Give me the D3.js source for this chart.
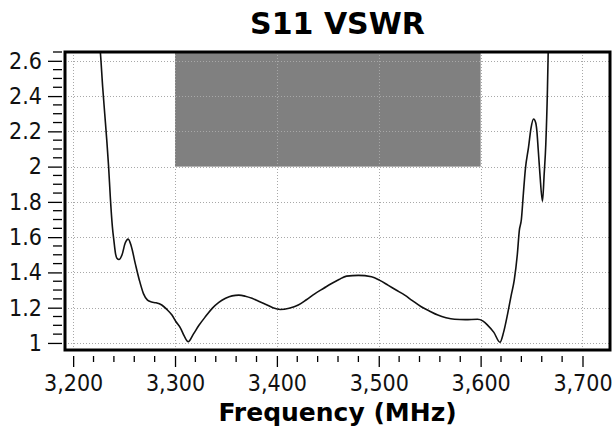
<!DOCTYPE html>
<html>
<head>
<meta charset="utf-8">
<script src="https://cdn.jsdelivr.net/npm/d3@7"></script>
<style>
	body { margin: 0; background: #fff; }
	svg { display: block; }
</style>
</head>
<body>
<div id="chart"></div>
<script>
// S11 VSWR sweep
const freq = [
	3224, 3226.7, 3229, 3231, 3233, 3234.8, 3236.5, 3238.5, 3240, 3241.5,
	3243, 3245, 3248, 3251, 3254, 3257, 3261, 3265, 3269, 3273,
	3277, 3281, 3287, 3292, 3297, 3301, 3305.5, 3309, 3313, 3318,
	3323.5, 3330, 3336.5, 3343, 3349.6, 3356, 3362.6, 3369, 3375.6, 3382,
	3388.7, 3396, 3403.3, 3412, 3421, 3429, 3437.5, 3446, 3453.7, 3461,
	3468.4, 3480, 3492.9, 3501, 3509, 3517, 3525.5, 3533, 3541.7, 3550,
	3558, 3566, 3574.4, 3585, 3597, 3602, 3607, 3613, 3619, 3622.5,
	3626.6, 3630, 3633, 3636, 3638, 3640, 3642, 3644, 3647, 3649.5,
	3652, 3654, 3655.2, 3656.5, 3658.2, 3660.7, 3662.4, 3664, 3665.6, 3666.5,
	3667.5,
];
const vswr = [
	2.8, 2.65, 2.45, 2.3, 2.15, 2.0, 1.825, 1.66, 1.58, 1.51,
	1.48, 1.473, 1.5, 1.565, 1.589, 1.55, 1.45, 1.356, 1.28, 1.243,
	1.232, 1.228, 1.215, 1.19, 1.158, 1.12, 1.083, 1.04, 1.007, 1.05,
	1.1, 1.15, 1.196, 1.23, 1.253, 1.267, 1.271, 1.265, 1.253, 1.237,
	1.22, 1.2, 1.19, 1.197, 1.215, 1.245, 1.28, 1.31, 1.337, 1.36,
	1.379, 1.383, 1.375, 1.355, 1.328, 1.3, 1.271, 1.24, 1.205, 1.18,
	1.158, 1.143, 1.134, 1.132, 1.134, 1.125, 1.1, 1.06, 1.004, 1.06,
	1.168, 1.27, 1.356, 1.5, 1.638, 1.7, 1.85, 1.99, 2.109, 2.22,
	2.27, 2.25, 2.203, 2.1, 1.959, 1.804, 1.959, 2.13, 2.439, 2.7,
	2.9,
];

// shaded spec mask: band edges and VSWR limit
const maskBand = [3300, 3600];
const maskLimit = 2;

const xTicks = [3200, 3300, 3400, 3500, 3600, 3700];
const yTicks = [1, 1.2, 1.4, 1.6, 1.8, 2, 2.2, 2.4, 2.6];
const xDomain = [3192, 3727];
const yDomain = [0.96, 2.65];

const width = 613;
const height = 431;
const margin = { top: 52, right: 3, bottom: 81, left: 65 };
const tickFont = "'DejaVu Sans Condensed', 'DejaVu Sans', sans-serif";

const svg = d3.select("#chart")
	.append("svg")
	.attr("width", width)
	.attr("height", height);

const x = d3.scaleLinear().domain(xDomain).range([margin.left, width - margin.right]);
const y = d3.scaleLinear().domain(yDomain).range([height - margin.bottom, margin.top]);

svg.append("defs").append("clipPath")
	.attr("id", "plotClip")
	.append("rect")
	.attr("x", margin.left)
	.attr("y", margin.top)
	.attr("width", width - margin.left - margin.right)
	.attr("height", height - margin.top - margin.bottom);

const plot = svg.append("g").attr("clip-path", "url(#plotClip)");

// mask rectangle
plot.append("rect")
	.attr("x", x(maskBand[0]))
	.attr("y", y(yDomain[1]))
	.attr("width", x(maskBand[1]) - x(maskBand[0]))
	.attr("height", y(maskLimit) - y(yDomain[1]))
	.attr("fill", "#808080");

// dotted grid
const grid = plot.append("g")
	.attr("stroke", "#a8a8a8")
	.attr("stroke-width", 1)
	.attr("stroke-dasharray", "1,2");

grid.selectAll("line.v")
	.data(xTicks)
	.enter()
	.append("line")
	.attr("class", "v")
	.attr("x1", (d) => Math.round(x(d)) + 0.5)
	.attr("x2", (d) => Math.round(x(d)) + 0.5)
	.attr("y1", margin.top)
	.attr("y2", height - margin.bottom);

grid.selectAll("line.h")
	.data(yTicks)
	.enter()
	.append("line")
	.attr("class", "h")
	.attr("y1", (d) => Math.round(y(d)) + 0.5)
	.attr("y2", (d) => Math.round(y(d)) + 0.5)
	.attr("x1", margin.left)
	.attr("x2", width - margin.right);

// VSWR trace
const points = freq.map((f, i) => [f, vswr[i]]);
const line = d3.line()
	.x((d) => x(d[0]))
	.y((d) => y(d[1]))
	.curve(d3.curveMonotoneX);

plot.append("path")
	.datum(points)
	.attr("d", line)
	.attr("fill", "none")
	.attr("stroke", "#111")
	.attr("stroke-width", 1.6);

// frame
svg.append("rect")
	.attr("x", margin.left)
	.attr("y", margin.top)
	.attr("width", width - margin.left - margin.right)
	.attr("height", height - margin.top - margin.bottom)
	.attr("fill", "none")
	.attr("stroke", "#000")
	.attr("stroke-width", 3);

// x axis, detached below the frame
const xMinor = d3.range(3200, 3701, 20);
const xAxis = d3.axisBottom(x)
	.tickValues(xTicks)
	.tickFormat(d3.format(","))
	.tickSize(11)
	.tickPadding(8);

const xAxisG = svg.append("g")
	.attr("transform", `translate(0, ${height - margin.bottom + 6})`)
	.call(xAxis);

xAxisG.selectAll("line.minor")
	.data(xMinor.filter((d) => !xTicks.includes(d)))
	.enter()
	.append("line")
	.attr("class", "minor")
	.attr("x1", (d) => x(d))
	.attr("x2", (d) => x(d))
	.attr("y1", 0)
	.attr("y2", 6);

// y axis, detached left of the frame
const yMinor = d3.range(1, 2.651, 0.05).map((d) => Math.round(d * 100) / 100);
const yAxis = d3.axisLeft(y)
	.tickValues(yTicks)
	.tickFormat(d3.format("~g"))
	.tickSize(14)
	.tickPadding(6);

const yAxisG = svg.append("g")
	.attr("transform", `translate(${margin.left - 3}, 0)`)
	.call(yAxis);

yAxisG.selectAll("line.minor")
	.data(yMinor.filter((d) => !yTicks.some((t) => Math.abs(t - d) < 1e-6)))
	.enter()
	.append("line")
	.attr("class", "minor")
	.attr("y1", (d) => y(d))
	.attr("y2", (d) => y(d))
	.attr("x1", 0)
	.attr("x2", -9);

[xAxisG, yAxisG].forEach((g) => {
	g.select(".domain").remove();
	g.selectAll("line").attr("stroke", "#000").attr("stroke-width", 1.3);
	g.selectAll("text")
		.attr("fill", "#111")
		.style("font-family", tickFont)
		.style("font-size", "23px");
});

// title and axis label
svg.append("text")
	.attr("x", (margin.left + width - margin.right) / 2)
	.attr("y", 34)
	.attr("text-anchor", "middle")
	.attr("fill", "#000")
	.style("font-family", "DejaVu Sans")
	.style("font-weight", "bold")
	.style("font-size", "30px")
	.text("S11 VSWR");

svg.append("text")
	.attr("x", (margin.left + width - margin.right) / 2)
	.attr("y", 421)
	.attr("text-anchor", "middle")
	.attr("fill", "#000")
	.style("font-family", "DejaVu Sans")
	.style("font-weight", "bold")
	.style("font-size", "25px")
	.text("Frequency (MHz)");
</script>
</body>
</html>
